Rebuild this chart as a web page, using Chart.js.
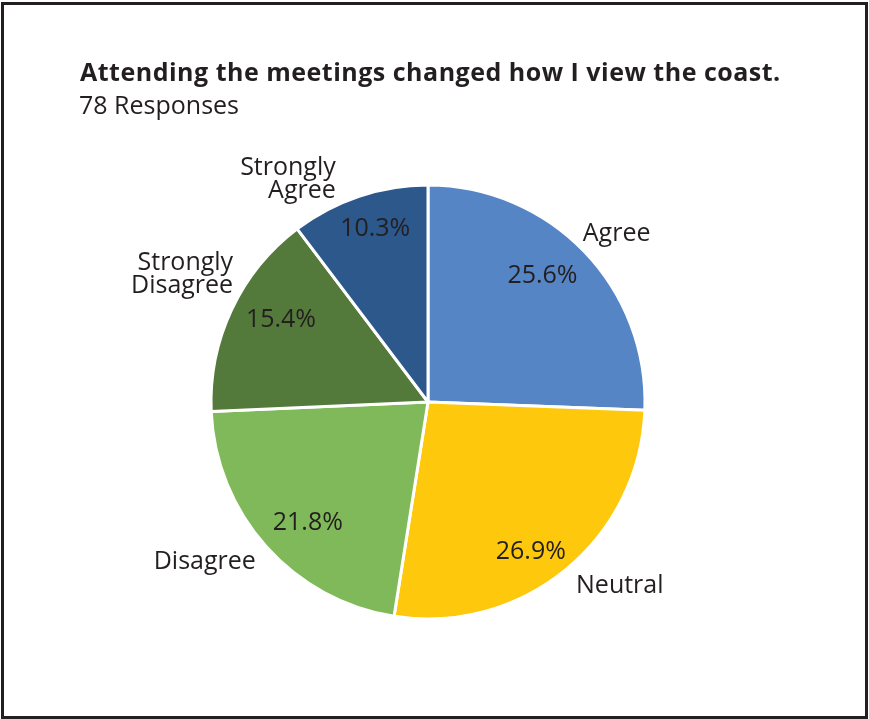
<!DOCTYPE html>
<html>
<head>
<meta charset="utf-8">
<title>Attending the meetings changed how I view the coast.</title>
<script src="https://cdn.jsdelivr.net/npm/chart.js@4.4.1/dist/chart.umd.min.js"></script>
<style>
  html, body { margin: 0; padding: 0; background: #fff; }
  body {
    width: 869px; height: 719px; position: relative; overflow: hidden;
    font-family: 'Open Sans', sans-serif; color: #231f20;
  }
  .frame {
    position: absolute; left: 1px; top: 2px; width: 867px; height: 717px;
    border: 3px solid #231f20; box-sizing: border-box;
  }
  .title {
    position: absolute; left: 80px; top: 59px; white-space: nowrap;
    font-size: 25px; line-height: 25px; font-weight: 700; letter-spacing: 0.5px;
  }
  .subtitle {
    position: absolute; left: 79px; top: 92px; white-space: nowrap;
    font-size: 25px; line-height: 25px;
  }
  #pie { position: absolute; left: 0; top: 0; }
</style>
</head>
<body>
<div class="frame"></div>
<canvas id="pie" width="869" height="719"></canvas>
<div class="title">Attending the meetings changed how I view the coast.</div>
<div class="subtitle">78 Responses</div>

<script>
// answers, clockwise from 12 o'clock
const categories = ['Agree', 'Neutral', 'Disagree', 'Strongly Disagree', 'Strongly Agree'];
const shares = [25.6, 26.9, 21.8, 15.4, 10.3];   // % of 78 responses
const sliceColors = ['#5585c5', '#fec90c', '#80b95a', '#547a3b', '#2c588c'];

// label placement: angle nudge (deg, clockwise) off the slice middle, distance as a fraction of the radius
const innerNudge = [-4.2, 4.6, -3.0, 4.5, 1.7];
const innerReach = [0.79, 0.83, 0.78, 0.78, 0.84];
const outerNudge = [1.9, -7.0, 6.5, 2.5, -13.4];
const outerReach = [1.17, 1.22, 1.26, 1.28, 1.22];

const TEXT = '#231f20';
const FONT_SIZE = 25;
const LINE_H = 23;

const rad = d => d * Math.PI / 180;

// draws a block of lines centred on (cx, cy); side sets how lines line up inside the block
function drawBlock(ctx, lines, cx, cy, side) {
  const widths = lines.map(l => ctx.measureText(l).width);
  const maxW = Math.max(...widths);
  const capH = FONT_SIZE * 0.714;
  let base = cy - (lines.length - 1) * LINE_H / 2 + capH / 2;
  lines.forEach((l, k) => {
    let x;
    if (side === 'right') x = cx + maxW / 2 - widths[k];
    else if (side === 'left') x = cx - maxW / 2;
    else x = cx - widths[k] / 2;
    ctx.fillText(l, x, base);
    base += LINE_H;
  });
}

const sliceLabels = {
  id: 'sliceLabels',
  afterDatasetsDraw(chart) {
    const ctx = chart.ctx;
    const arcs = chart.getDatasetMeta(0).data;
    ctx.save();
    ctx.fillStyle = TEXT;
    ctx.font = `${FONT_SIZE}px 'Open Sans', sans-serif`;
    ctx.textAlign = 'left';
    ctx.textBaseline = 'alphabetic';
    arcs.forEach((arc, i) => {
      const { x, y, startAngle, endAngle, outerRadius } =
        arc.getProps(['x', 'y', 'startAngle', 'endAngle', 'outerRadius'], true);
      const mid = (startAngle + endAngle) / 2;

      const a1 = mid + rad(innerNudge[i]);
      const r1 = outerRadius * innerReach[i];
      drawBlock(ctx, [shares[i].toFixed(1) + '%'], x + r1 * Math.cos(a1), y + r1 * Math.sin(a1), 'center');

      const a2 = mid + rad(outerNudge[i]);
      const r2 = outerRadius * outerReach[i];
      const side = Math.cos(a2) < 0 ? 'right' : 'left';
      drawBlock(ctx, categories[i].split(' '), x + r2 * Math.cos(a2), y + r2 * Math.sin(a2), side);
    });
    ctx.restore();
  }
};

new Chart(document.getElementById('pie'), {
  type: 'pie',
  data: {
    labels: categories,
    datasets: [{
      data: shares,
      backgroundColor: sliceColors,
      borderColor: '#ffffff',
      borderWidth: 3
    }]
  },
  options: {
    responsive: false,
    animation: false,
    radius: 217,
    layout: { padding: { left: 200, right: 213, top: 180, bottom: 95 } },
    plugins: {
      legend: { display: false },
      tooltip: { enabled: false },
      title: { display: false }
    }
  },
  plugins: [sliceLabels]
});
</script>
</body>
</html>
